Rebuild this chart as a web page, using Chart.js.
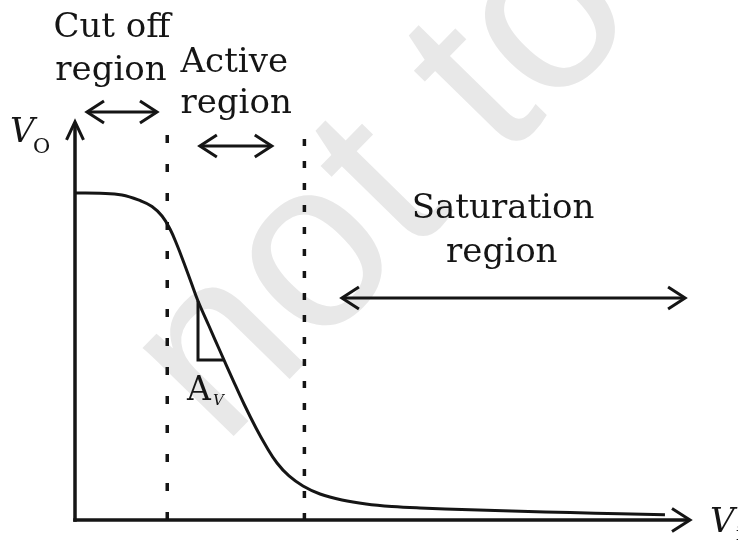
<!DOCTYPE html>
<html>
<head>
<meta charset="utf-8">
<style>
html,body{margin:0;padding:0;background:#fff;}
#wrap{width:738px;height:547px;}
</style>
<script src="https://cdn.jsdelivr.net/npm/chart.js@4/dist/chart.umd.min.js"></script>
</head>
<body>
<div id="wrap"><canvas id="c" width="738" height="547"></canvas></div>
<script>
// ---- data (arbitrary units: Vi 0..10, Vo 0..10) ----
const curveVi = [0, 0.407, 0.764, 1.073, 1.252, 1.415, 1.545, 1.659, 1.772, 1.886, 2.000, 2.179, 2.358, 2.569, 2.748, 2.943, 3.106, 3.285, 3.480, 3.707, 3.984, 4.341, 4.732, 5.154, 5.610, 6.423, 7.236, 8.049, 8.862, 9.593];
const curveVo = [8.278, 8.271, 8.228, 8.076, 7.937, 7.696, 7.367, 6.962, 6.506, 6.025, 5.544, 4.911, 4.278, 3.544, 2.937, 2.329, 1.873, 1.443, 1.114, 0.861, 0.658, 0.506, 0.405, 0.342, 0.304, 0.258, 0.220, 0.187, 0.157, 0.132];
const boundaryVi = [1.50, 3.73];          // cut-off / active, active / saturation
const boundaryTop = [9.80, 10.00];
const slopeVi = [2.00, 2.00, 2.41];        // Av triangle
const slopeVo = [5.544, 4.05, 4.05];
const regionNames = [["Cut off", "region"], ["Active", "region"], ["Saturation", "region"]];
const axisNames = ["V", "O", "V", "i"];
const gainName = ["A", "V"];
const watermark = "not to be republished";

const toPts = (xs, ys) => xs.map((x, i) => ({x: x, y: ys[i]}));

const ink = '#151515';

const decor = {
  id: 'decor',
  beforeDatasetsDraw(chart) {
    const ctx = chart.ctx;
    ctx.save();
    ctx.translate(222, 448);
    ctx.rotate(-45.6 * Math.PI / 180);
    ctx.font = '240px "Liberation Sans"';
    ctx.fillStyle = '#e8e8e8';
    ctx.textBaseline = 'alphabetic';
    ctx.textAlign = 'left';
    ctx.fillText(watermark, 0, 0);
    ctx.restore();
  },
  afterDatasetsDraw(chart) {
    const ctx = chart.ctx;
    const xs = chart.scales.x, ys = chart.scales.y;
    const X = v => xs.getPixelForValue(v);
    const Y = v => ys.getPixelForValue(v);
    ctx.save();
    ctx.strokeStyle = ink;
    ctx.fillStyle = ink;
    ctx.lineCap = 'butt';
    ctx.lineJoin = 'miter';

    function chevron(tx, ty, dx, dy, len, half) {
      const px = -dy, py = dx;
      ctx.beginPath();
      ctx.moveTo(tx - dx * len + px * half, ty - dy * len + py * half);
      ctx.lineTo(tx, ty);
      ctx.lineTo(tx - dx * len - px * half, ty - dy * len - py * half);
      ctx.stroke();
    }
    function dbl(x1, x2, y) {
      const a = X(x1), b = X(x2), yy = Y(y);
      ctx.lineWidth = 3;
      ctx.beginPath();
      ctx.moveTo(a + 1, yy); ctx.lineTo(b - 1, yy); ctx.stroke();
      chevron(a, yy, -1, 0, 17, 11);
      chevron(b, yy, 1, 0, 17, 11);
    }

    // axes
    const x0 = X(0), y0 = Y(0);
    ctx.lineWidth = 3.5;
    ctx.beginPath();
    ctx.moveTo(x0, y0 + 1.75);
    ctx.lineTo(x0, Y(10.08) + 1);
    ctx.stroke();
    ctx.beginPath();
    ctx.moveTo(x0 - 1.75, y0);
    ctx.lineTo(X(10) - 1, y0);
    ctx.stroke();
    ctx.lineWidth = 3;
    chevron(x0, Y(10.08), 0, -1, 18, 8.5);
    chevron(X(10), y0, 1, 0, 18, 11.5);

    // region arrows
    dbl(0.195, 1.333, 10.33);
    dbl(2.03, 3.20, 9.47);
    dbl(4.34, 9.92, 5.62);

    // region labels
    ctx.font = '34px "DejaVu Serif"';
    ctx.textAlign = 'center';
    ctx.textBaseline = 'alphabetic';
    ctx.fillText(regionNames[0][0], X(0.60), Y(12.23));
    ctx.fillText(regionNames[0][1], X(0.585), Y(11.14));
    ctx.fillText(regionNames[1][0], X(2.59), Y(11.34));
    ctx.fillText(regionNames[1][1], X(2.62), Y(10.30));
    ctx.fillText(regionNames[2][0], X(6.96), Y(7.65));
    ctx.fillText(regionNames[2][1], X(6.94), Y(6.53));

    // axis names
    ctx.textAlign = 'left';
    ctx.font = 'italic 34px "DejaVu Serif"';
    ctx.fillText(axisNames[0], 10, Y(9.56));
    ctx.font = '21px "DejaVu Serif"';
    ctx.fillText(axisNames[1], 33, Y(9.30));
    ctx.font = 'italic 34px "DejaVu Serif"';
    ctx.fillText(axisNames[2], 710, Y(-0.30));
    ctx.font = '18px "DejaVu Serif"';
    ctx.fillText(axisNames[3], 736, Y(-0.50));

    // gain label
    ctx.font = '33px "DejaVu Serif"';
    ctx.fillText(gainName[0], 187, Y(3.04));
    ctx.font = 'italic 15px "DejaVu Serif"';
    ctx.fillText(gainName[1], 213, Y(2.91));
    ctx.restore();
  }
};

new Chart(document.getElementById('c'), {
  type: 'scatter',
  data: {
    datasets: [
      { data: toPts(curveVi, curveVo), showLine: true, borderColor: ink, borderWidth: 3,
        pointRadius: 0, tension: 0.4, fill: false },
      { data: [{x: boundaryVi[0], y: 0}, {x: boundaryVi[0], y: boundaryTop[0]}], showLine: true,
        borderColor: ink, borderWidth: 3.5, borderDash: [8, 21], pointRadius: 0, fill: false },
      { data: [{x: boundaryVi[1], y: 0}, {x: boundaryVi[1], y: boundaryTop[1]}], showLine: true,
        borderColor: ink, borderWidth: 3.5, borderDash: [7, 15], pointRadius: 0, fill: false },
      { data: toPts(slopeVi, slopeVo), showLine: true, borderColor: ink, borderWidth: 3,
        pointRadius: 0, fill: false, tension: 0 }
    ]
  },
  options: {
    responsive: false,
    animation: false,
    devicePixelRatio: 1,
    layout: { padding: { left: 75, right: 48, top: 125, bottom: 27 } },
    scales: {
      x: { type: 'linear', min: 0, max: 10, display: false },
      y: { type: 'linear', min: 0, max: 10, display: false }
    },
    plugins: { legend: { display: false }, tooltip: { enabled: false } },
    elements: { point: { radius: 0 } }
  },
  plugins: [decor]
});
</script>
</body>
</html>
